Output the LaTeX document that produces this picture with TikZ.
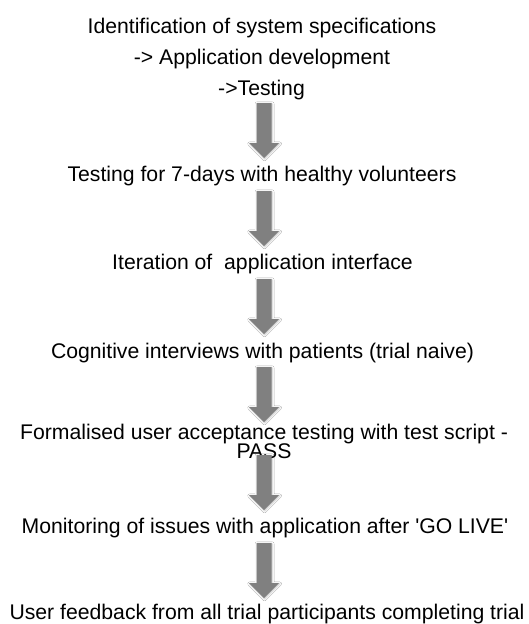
\documentclass[tikz,border=0pt]{standalone}
\usepackage{fontspec}
\newfontfamily\flowfont{Liberation Sans}
\usetikzlibrary{shadows.blur}
\definecolor{arrowgray}{HTML}{808080}
\tikzset{
  steptext/.style={anchor=base, inner sep=0pt, align=center,
    font=\flowfont\fontsize{21.2}{19}\selectfont},
  pics/downarrow/.style={code={
    \fill[arrowgray, blur shadow={shadow xshift=0.6pt, shadow yshift=-0.8pt,
        shadow blur radius=2pt, shadow opacity=25}]
      (-7.5,0) -- (7.5,0) -- (7.5,40) -- (15,40) -- (0,55) -- (-15,40) -- (-7.5,40) -- cycle;
  }}
}
\begin{document}
\begin{tikzpicture}[x=1pt,y=-1pt]
  \useasboundingbox (0,0) rectangle (529,624);
  \fill[white] (0,0) rectangle (529,624);

  % steps of the development process
  \node[steptext] (s1a) at (262,33.5) {Identification of system specifications};
  \node[steptext] (s1b) at (262,64.5) {-> Application development};
  \node[steptext] (s1c) at (261.5,95) {->Testing};
  \node[steptext] (s2) at (262,181) {Testing for 7-days with healthy volunteers};
  \node[steptext] (s3) at (262.5,269) {Iteration of\ \ application interface};
  \node[steptext] (s4) at (262.5,358) {Cognitive interviews with patients (trial naive)};
  \node[steptext] (s5a) at (264,439) {Formalised user acceptance testing with test script -};
  \node[steptext] (s5b) at (264,458) {PASS};
  \node[steptext] (s6) at (265,533) {Monitoring of issues with application after 'GO LIVE'};
  \node[steptext] (s7) at (267,619.5) {User feedback from all trial participants completing trial};

  % block arrows between consecutive steps
  \coordinate (a1) at (264,103);
  \coordinate (a2) at (264,191);
  \coordinate (a3) at (264,279);
  \coordinate (a4) at (264,367);
  \coordinate (a5) at (264,455);
  \coordinate (a6) at (264,543);
  \foreach \a in {a1,a2,a3,a4,a5,a6}
    \pic at (\a) {downarrow};
\end{tikzpicture}
\end{document}
